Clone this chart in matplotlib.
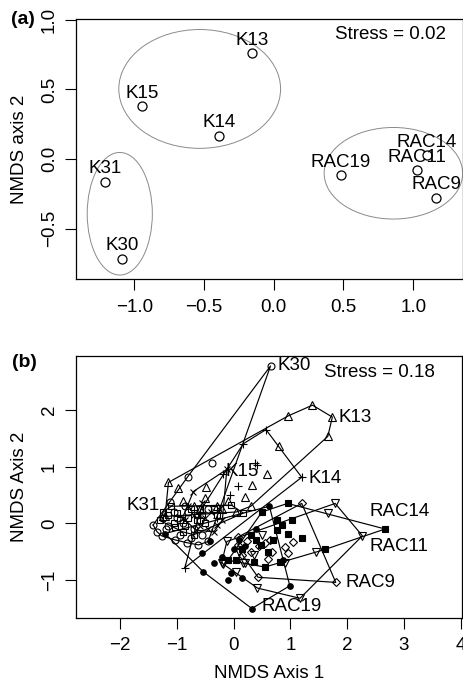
import numpy as np
import matplotlib
matplotlib.use('Agg')
import matplotlib.pyplot as plt
from matplotlib.patches import Ellipse

plt.rcParams['font.family'] = ['Liberation Sans', 'DejaVu Sans']
plt.rcParams['font.size'] = 13.5

# ---- panel (a): site scores ----
sites = ['K13', 'K15', 'K14', 'K31', 'K30', 'RAC19', 'RAC11', 'RAC14', 'RAC9']
site_x = [-0.158, -0.943, -0.393, -1.211, -1.086, 0.483, 1.027, 1.098, 1.163]
site_y = [0.759, 0.380, 0.167, -0.163, -0.716, -0.115, -0.079, 0.029, -0.278]

ell_cx = [-0.531, -1.104, 0.858]
ell_cy = [0.504, -0.393, -0.102]
ell_w = [1.16, 0.467, 0.993]
ell_h = [0.854, 0.881, 0.658]

# ---- panel (b): sample scores per site ----
k30 = [(0.65, 2.77), (-0.39, 1.07), (-0.81, 0.82), (-1.12, 0.38), (-1.42, -0.03),
       (-1.27, -0.22), (-1.04, -0.29), (-0.83, -0.34), (-0.62, -0.38), (-0.45, -0.32),
       (-1.0, 0.1), (-0.8, 0.2), (-0.9, 0.0), (-0.6, 0.05), (-0.7, -0.1),
       (-1.15, -0.05), (-0.45, 0.25), (-1.25, 0.1), (-1.35, -0.15), (-1.2, -0.1),
       (-0.95, -0.2), (-0.75, -0.25), (-0.55, -0.2), (-1.05, 0.2), (-0.85, 0.3),
       (-0.65, 0.15)]
k13 = [(1.39, 2.08), (0.96, 1.89), (1.74, 1.87), (1.66, 1.53), (0.80, 1.36),
       (0.58, 0.87), (0.32, 0.67), (-1.15, 0.72), (-0.98, 0.62), (-0.48, 0.64),
       (0.20, 0.47), (-1.21, 0.12), (-0.7, 0.3), (0.3, 0.3), (-0.3, 0.3),
       (0.05, 0.2), (-0.9, 0.4), (-0.5, 0.45), (-0.1, 0.4), (-0.2, 0.25),
       (-0.6, 0.25)]
k14 = [(0.57, 1.65), (0.17, 1.40), (1.20, 0.81), (0.41, 1.03), (0.38, 1.06),
       (0.08, 0.66), (-0.07, 0.5), (-0.18, 0.86), (-0.86, -0.78), (-0.6, 0.2),
       (-0.3, 0.1)]
k15 = [(-0.71, 0.56), (-0.30, -0.03), (-0.66, -0.12), (-0.5, 0.1), (-0.4, 0.2),
       (-0.8, 0.3), (-0.2, 0.05), (-0.55, 0.35), (-0.35, -0.15), (-0.12, 0.95),
       (-0.9, 0.1), (-0.6, -0.05), (-0.45, -0.1), (-0.25, 0.25), (-0.7, 0.15),
       (-0.85, 0.05)]
k31 = [(-1.24, 0.20), (-1.0, 0.18), (-1.03, -0.06), (-0.04, 0.32), (0.17, 0.18),
       (-0.8, 0.1), (-0.6, 0.25), (-0.5, 0.0), (-0.9, -0.15), (-0.3, 0.15),
       (-1.3, 0.05), (-0.7, -0.2), (-1.1, 0.3), (-1.15, 0.15), (-0.95, 0.05),
       (-0.75, 0.25), (-0.55, 0.15), (-0.35, 0.25), (-1.05, 0.0), (-0.65, 0.05),
       (-0.85, -0.05)]
rac14 = [(2.67, -0.10), (0.95, 0.35), (1.61, -0.46), (0.76, 0.06), (1.02, 0.06),
         (0.86, -0.03), (0.96, -0.18), (0.77, -0.12), (0.49, -0.38), (0.35, -0.68),
         (0.55, -0.77), (0.82, -0.68), (-0.10, -0.65), (0.05, -0.65), (0.5, 0.2),
         (0.3, -0.2), (1.2, -0.25), (0.6, -0.5), (0.15, -0.45), (0.4, -0.3),
         (0.7, -0.3)]
rac11 = [(1.79, 0.35), (1.66, 0.19), (2.27, -0.22), (1.46, -0.50), (1.17, -1.32),
         (0.42, -1.14), (0.17, -0.70), (-0.18, -0.72), (-0.12, -0.32), (-0.21, -0.69),
         (0.2, -0.69), (0.5, -0.2), (0.9, -0.7), (0.1, -0.5), (0.35, -0.55),
         (0.05, -0.85)]
rac9 = [(1.20, 0.35), (1.80, -1.04), (0.43, -0.95), (1.05, -0.33), (0.90, -0.41),
        (0.96, -0.53), (0.64, -0.29), (0.61, -0.62), (0.67, -0.50), (0.08, -0.24),
        (0.08, -0.38), (0.23, -0.32), (0.3, -0.5), (0.45, -0.4), (0.15, -0.55),
        (0.55, -0.35)]
rac19 = [(0.63, 0.30), (0.99, -1.10), (0.32, -1.50), (-0.54, -0.85), (-0.56, -0.53),
         (-0.42, -0.32), (-1.21, -0.18), (0.87, -0.65), (-0.10, -0.99), (0.14, -0.97),
         (-0.04, -0.88), (0.2, -0.4), (0.4, -0.1), (-0.2, -0.6), (0.0, -0.45),
         (-0.35, -0.7), (0.1, -0.3)]

groups = [k30, k13, k14, k15, k31, rac14, rac11, rac9, rac19]
group_names = ['K30', 'K13', 'K14', 'K15', 'K31', 'RAC14', 'RAC11', 'RAC9', 'RAC19']
label_x = [0.77, 1.85, 1.32, -0.15, -1.89, 2.40, 2.40, 1.98, 0.49]
label_y = [2.77, 1.86, 0.79, 0.92, 0.32, 0.20, -0.41, -1.04, -1.47]

markers = ['o', '^', '+', 'x', 's', 's', 'v', 'D', 'o']
filled = [False, False, False, False, False, True, False, False, True]
msizes = [5, 5.5, 6, 5, 4.5, 4.5, 5.5, 4.5, 4]


def hull(pts):
    p = sorted(set(pts))
    def cross(o, a, b):
        return (a[0]-o[0])*(b[1]-o[1]) - (a[1]-o[1])*(b[0]-o[0])
    lower, upper = [], []
    for q in p:
        while len(lower) >= 2 and cross(lower[-2], lower[-1], q) <= 0:
            lower.pop()
        lower.append(q)
    for q in reversed(p):
        while len(upper) >= 2 and cross(upper[-2], upper[-1], q) <= 0:
            upper.pop()
        upper.append(q)
    h = lower[:-1] + upper[:-1]
    return np.array(h + [h[0]])


def style_axis(ax):
    ax.tick_params(direction='out', length=8, width=0.8, labelsize=13.5)
    ax.tick_params(axis='x', pad=6)
    ax.tick_params(axis='y', pad=5)
    for lab in ax.get_yticklabels():
        lab.set_rotation(90)
        lab.set_va('center')
    for s in ax.spines.values():
        s.set_linewidth(0.9)


fig = plt.figure(figsize=(4.63, 6.84), dpi=100)

# (a)
ax1 = fig.add_axes([0.1641, 0.5917, 0.835, 0.3806])
for cx, cy, w, h in zip(ell_cx, ell_cy, ell_w, ell_h):
    ax1.add_patch(Ellipse((cx, cy), w, h, fill=False, edgecolor='#8a8a8a', lw=0.7))
ax1.plot(site_x, site_y, 'o', mfc='none', mec='black', ms=6.5, mew=0.9)
for n, x, y in zip(sites, site_x, site_y):
    ax1.annotate(n, (x, y), xytext=(0, 6), textcoords='offset points',
                 ha='center', va='baseline')
ax1.text(0.838, 0.897, 'Stress = 0.02', ha='center', va='center')
ax1.set_xlim(-1.418, 1.354)
ax1.set_ylim(-0.864, 1.007)
ax1.set_xticks([-1.0, -0.5, 0.0, 0.5, 1.0])
ax1.set_yticks([-0.5, 0.0, 0.5, 1.0])
ax1.set_xticklabels(['\u22121.0', '\u22120.5', '0.0', '0.5', '1.0'])
ax1.set_yticklabels(['\u22120.5', '0.0', '0.5', '1.0'])
ax1.set_ylabel('NMDS axis 2')
ax1.yaxis.set_label_coords(-0.125, 0.5)
style_axis(ax1)

# (b)
ax2 = fig.add_axes([0.1641, 0.0969, 0.833, 0.3826])
for pts, m, f, ms in zip(groups, markers, filled, msizes):
    arr = np.array(pts)
    ax2.plot(arr[:, 0], arr[:, 1], m, ms=ms, mec='black',
             mfc='black' if f else 'none', mew=0.8, zorder=3)
    hp = hull(pts)
    ax2.plot(hp[:, 0], hp[:, 1], '-', color='black', lw=0.85, zorder=2)
for n, x, y in zip(group_names, label_x, label_y):
    ax2.text(x, y, n, ha='left', va='center', zorder=4)
ax2.text(1.6, 2.66, 'Stress = 0.18', ha='left', va='center')
ax2.set_xlim(-2.78, 4.02)
ax2.set_ylim(-1.662, 2.945)
ax2.set_xticks(range(-2, 5))
ax2.set_yticks(range(-1, 3))
ax2.set_xticklabels(['\u22122', '\u22121', '0', '1', '2', '3', '4'])
ax2.set_yticklabels(['\u22121', '0', '1', '2'])
ax2.set_xlabel('NMDS Axis 1', labelpad=8)
ax2.set_ylabel('NMDS Axis 2')
ax2.yaxis.set_label_coords(-0.125, 0.5)
style_axis(ax2)

fig.text(22.5 / 463, 1 - 20 / 684, '(a)', ha='center', va='center',
         fontsize=14, fontweight='bold')
fig.text(24 / 463, 1 - 362 / 684, '(b)', ha='center', va='center',
         fontsize=14, fontweight='bold')

fig.savefig('out.png', dpi=100)
